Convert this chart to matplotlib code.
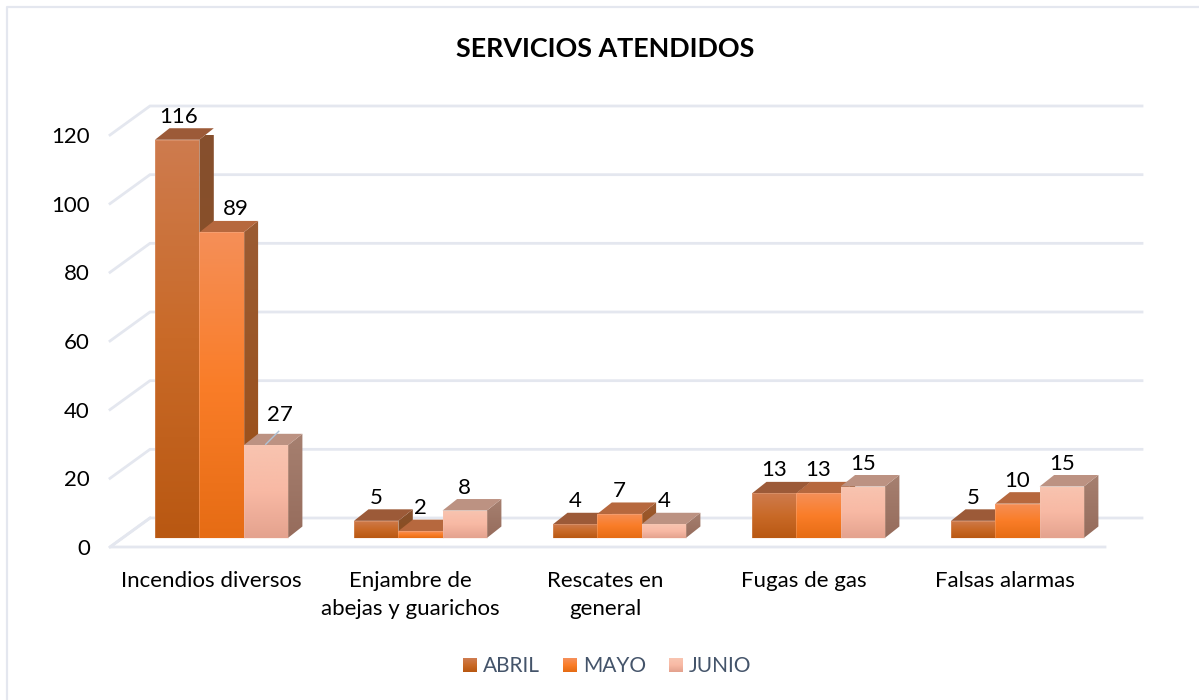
import numpy as np
import matplotlib
matplotlib.use('Agg')
import matplotlib.pyplot as plt
from matplotlib.legend_handler import HandlerBase
from matplotlib.lines import Line2D
from matplotlib.patches import Patch, Polygon, Rectangle
from matplotlib.colors import LinearSegmentedColormap

plt.rcParams['font.family'] = ['Lato', 'DejaVu Sans']

# Data
categories = ['Incendios diversos', 'Enjambre de\nabejas y guarichos', 'Rescates en\ngeneral',
              'Fugas de gas', 'Falsas alarmas']
series_names = ['ABRIL', 'MAYO', 'JUNIO']
abril = [116, 5, 4, 13, 5]
mayo = [89, 2, 7, 13, 10]
junio = [27, 8, 4, 15, 15]
y_ticks = [0, 20, 40, 60, 80, 100, 120]

# Styles: three stops of the front gradient, then top face, then side face
front_colors = [['#CE7B4E', '#C96A28', '#B95812'],
                ['#F58F58', '#FA7D28', '#E66C14'],
                ['#F8C4B0', '#F8B9A4', '#E4A28E']]
top_colors = ['#9C5A38', '#B6683E', '#BC9282']
side_colors = [['#86502E', '#8C4E1E'], ['#9A5C34', '#9C4E14'], ['#A68070', '#966C5C']]
grid_color = '#E4E7EF'

W, H = 1199, 700
fig = plt.figure(figsize=(W / 100, H / 100), dpi=100)
fig.patch.set_facecolor('white')
ax = fig.add_axes([110 / W, 1 - 547 / H, 995 / W, 412 / H])
px_x = 5 / 995
px_y = 120 / 412


def gradient_face(points, colors, zorder):
    pts = np.array(points)
    cmap = LinearSegmentedColormap.from_list('face', colors)
    img = ax.imshow(np.linspace(0, 1, 128).reshape(-1, 1), cmap=cmap, aspect='auto', origin='upper',
                    extent=[pts[:, 0].min(), pts[:, 0].max(), pts[:, 1].min(), pts[:, 1].max()],
                    zorder=zorder, interpolation='bilinear')
    clip = Polygon(pts, closed=True, transform=ax.transData, facecolor='none', edgecolor='none',
                   clip_on=False)
    ax.add_patch(clip)
    img.set_clip_path(clip)


# Walls and floor
wall_dx, wall_dy = 40 * px_x, 29 * px_y
right_end = 1142 - 110
for v in y_ticks:
    ax.plot([0, wall_dx, right_end * px_x], [v, v + wall_dy, v + wall_dy], color=grid_color, lw=2,
            zorder=1, clip_on=False, solid_joinstyle='miter')
ax.plot([wall_dx, 0, 5], [wall_dy, 0, 0], color=grid_color, lw=2, zorder=1, clip_on=False)

# Bars
bar_w = 44.3 * px_x
first_bar = 45 * px_x
base = 9 * px_y
dep_x, dep_y = 14.5 * px_x, 11.5 * px_y
all_values = [abril, mayo, junio]
# label shifts in pixels where the original label was moved by hand
label_shift = {(0, 0): (1, 0), (0, 1): (14, 0), (0, 2): (14, -7)}

z = 5
for g in range(len(categories)):
    for s, values in enumerate(all_values):
        v = values[g]
        x0 = g + first_bar + s * bar_w
        x1 = x0 + bar_w
        y0, y1 = base, base + v
        gradient_face([(x1, y0), (x1 + dep_x, y0 + dep_y), (x1 + dep_x, y1 + dep_y), (x1, y1)],
                      side_colors[s], z)
        ax.add_patch(Polygon([(x0, y1), (x0 + dep_x, y1 + dep_y), (x1 + dep_x, y1 + dep_y), (x1, y1)],
                             closed=True, facecolor=top_colors[s], edgecolor='none', zorder=z + 1,
                             clip_on=False))
        gradient_face([(x0, y0), (x1, y0), (x1, y1), (x0, y1)], front_colors[s], z + 2)
        ax.add_patch(Rectangle((x0, y0), bar_w, v, facecolor='none', edgecolor='#F6CDB8', lw=0.5,
                               alpha=0.35, zorder=z + 3, clip_on=False))
        z += 4

for g in range(len(categories)):
    for s, values in enumerate(all_values):
        v = values[g]
        shift = label_shift.get((g, s), (0, 0))
        xc = g + first_bar + (s + 0.5) * bar_w
        ax.text(xc + shift[0] * px_x, base + v + (23 - shift[1]) * px_y, str(v), ha='center',
                va='center', fontsize=16, color='black', zorder=500, clip_on=False)

# leader line of the JUNIO label in the first group
xc = first_bar + 2.5 * bar_w
ax.plot([xc, xc + 13 * px_x], [base + junio[0] + 1 * px_y, base + junio[0] + 14 * px_y],
        color='#AEC2D6', lw=1, zorder=499)

ax.set_xlim(0, 5)
ax.set_ylim(0, 120)
ax.patch.set_alpha(0)
for sp in ax.spines.values():
    sp.set_visible(False)
ax.set_yticks(y_ticks)
ax.set_xticks([0.51, 1.51, 2.49, 3.485, 4.495])
ax.set_xticklabels(categories, linespacing=1.46)
ax.tick_params(axis='both', length=0, labelsize=16, labelcolor='black')
ax.tick_params(axis='y', pad=14.5)
ax.tick_params(axis='x', pad=17.5)

fig.text(605 / W, 1 - 49 / H, 'SERVICIOS ATENDIDOS', ha='center', va='center', fontsize=19.4,
         fontweight='bold', color='black')


# legend swatches keep the vertical gradient of the bars
class GradientHandler(HandlerBase):
    def __init__(self, colors):
        super().__init__()
        self.colors = colors

    def create_artists(self, legend, orig_handle, xdescent, ydescent, width, height, fontsize, trans):
        cmap = LinearSegmentedColormap.from_list('swatch', self.colors)
        n = 14
        side = width
        y0 = -ydescent + (height - side) / 2
        out = []
        for i in range(n):
            out.append(Rectangle((-xdescent, y0 + side * (n - 1 - i) / n), side, side / n + 0.2,
                                 facecolor=cmap(i / (n - 1)), edgecolor='none', transform=trans))
        return out


handles = [Patch(label=name) for name in series_names]
handler_map = {h: GradientHandler(front_colors[i]) for i, h in enumerate(handles)}
fig.legend(handles=handles, handler_map=handler_map, loc='center', bbox_to_anchor=(607 / W, 1 - 666 / H),
           ncol=3, frameon=False, fontsize=15, labelcolor='#44546A', handlelength=0.67, handleheight=1.0,
           handletextpad=0.29, columnspacing=1.1)

# chart frame, only the top and left edges survive in the picture
fig.add_artist(Line2D([7 / W, 7 / W, 1], [0, 1 - 7 / H, 1 - 7 / H], color='#E4E7EF', lw=1.6))

fig.savefig('out.png', dpi=100)
